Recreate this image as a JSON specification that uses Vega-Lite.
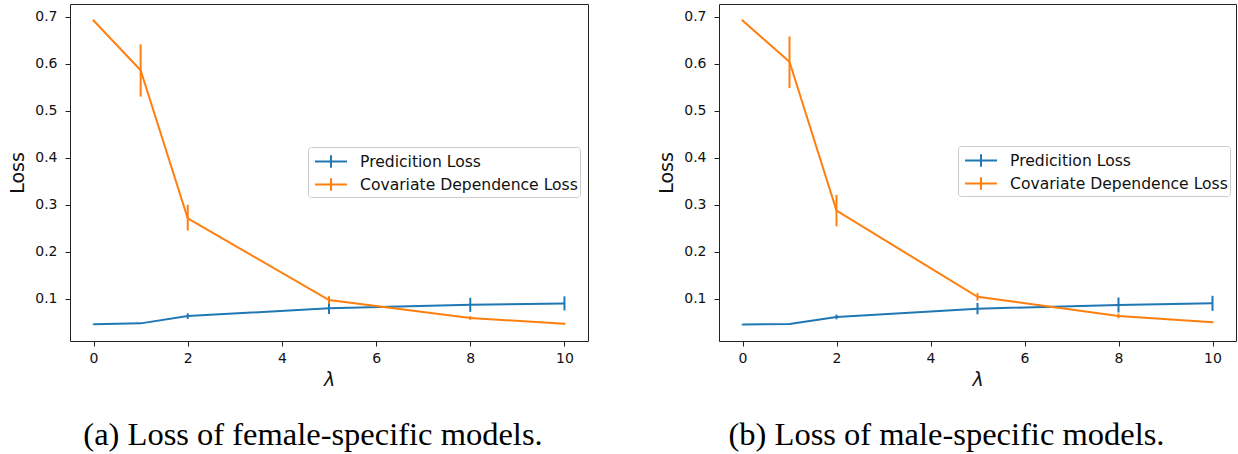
{
  "$schema": "https://vega.github.io/schema/vega-lite/v6.json",
  "padding": {"left": 8, "top": 3, "right": 0, "bottom": 0},
  "spacing": 68,
  "background": "white",
  "data": {"values": [
    {"panel": "a", "series": "Predicition Loss", "lambda": 0, "loss": 0.0455, "lower": 0.0445, "upper": 0.0465},
    {"panel": "a", "series": "Predicition Loss", "lambda": 1, "loss": 0.0475, "lower": 0.0465, "upper": 0.0485},
    {"panel": "a", "series": "Predicition Loss", "lambda": 2, "loss": 0.063, "lower": 0.057, "upper": 0.069},
    {"panel": "a", "series": "Predicition Loss", "lambda": 5, "loss": 0.0795, "lower": 0.0675, "upper": 0.0915},
    {"panel": "a", "series": "Predicition Loss", "lambda": 8, "loss": 0.087, "lower": 0.072, "upper": 0.102},
    {"panel": "a", "series": "Predicition Loss", "lambda": 10, "loss": 0.090, "lower": 0.075, "upper": 0.105},
    {"panel": "a", "series": "Covariate Dependence Loss", "lambda": 0, "loss": 0.692, "lower": 0.690, "upper": 0.694},
    {"panel": "a", "series": "Covariate Dependence Loss", "lambda": 1, "loss": 0.586, "lower": 0.530, "upper": 0.641},
    {"panel": "a", "series": "Covariate Dependence Loss", "lambda": 2, "loss": 0.271, "lower": 0.245, "upper": 0.300},
    {"panel": "a", "series": "Covariate Dependence Loss", "lambda": 5, "loss": 0.097, "lower": 0.089, "upper": 0.105},
    {"panel": "a", "series": "Covariate Dependence Loss", "lambda": 8, "loss": 0.059, "lower": 0.055, "upper": 0.063},
    {"panel": "a", "series": "Covariate Dependence Loss", "lambda": 10, "loss": 0.0466, "lower": 0.0446, "upper": 0.0486},
    {"panel": "b", "series": "Predicition Loss", "lambda": 0, "loss": 0.0449, "lower": 0.0439, "upper": 0.0459},
    {"panel": "b", "series": "Predicition Loss", "lambda": 1, "loss": 0.0463, "lower": 0.0453, "upper": 0.0473},
    {"panel": "b", "series": "Predicition Loss", "lambda": 2, "loss": 0.0612, "lower": 0.0562, "upper": 0.0662},
    {"panel": "b", "series": "Predicition Loss", "lambda": 5, "loss": 0.0788, "lower": 0.0668, "upper": 0.0908},
    {"panel": "b", "series": "Predicition Loss", "lambda": 8, "loss": 0.0866, "lower": 0.0706, "upper": 0.1026},
    {"panel": "b", "series": "Predicition Loss", "lambda": 10, "loss": 0.0902, "lower": 0.0742, "upper": 0.1062},
    {"panel": "b", "series": "Covariate Dependence Loss", "lambda": 0, "loss": 0.692, "lower": 0.690, "upper": 0.694},
    {"panel": "b", "series": "Covariate Dependence Loss", "lambda": 1, "loss": 0.604, "lower": 0.548, "upper": 0.658},
    {"panel": "b", "series": "Covariate Dependence Loss", "lambda": 2, "loss": 0.2874, "lower": 0.254, "upper": 0.321},
    {"panel": "b", "series": "Covariate Dependence Loss", "lambda": 5, "loss": 0.104, "lower": 0.096, "upper": 0.112},
    {"panel": "b", "series": "Covariate Dependence Loss", "lambda": 8, "loss": 0.0633, "lower": 0.0583, "upper": 0.0683},
    {"panel": "b", "series": "Covariate Dependence Loss", "lambda": 10, "loss": 0.050, "lower": 0.048, "upper": 0.052}
  ]},
  "resolve": {"scale": {"color": "independent"}, "legend": {"color": "independent"}},
  "config": {
    "view": {"stroke": "#222", "strokeWidth": 1},
    "axis": {"grid": false, "domain": false, "tickColor": "#222", "tickSize": 5, "tickWidth": 1,
      "labelFont": "DejaVu Sans", "labelFontSize": 14, "labelColor": "#111", "labelFlush": false,
      "titleFont": "DejaVu Sans", "titleFontSize": 19, "titleFontWeight": "normal", "titleColor": "#111"},
    "axisX": {"labelPadding": 5, "titlePadding": 5, "titleFontStyle": "italic"},
    "axisY": {"labelPadding": 8, "titlePadding": 7},
    "title": {"font": "Liberation Serif", "fontSize": 32.5, "fontWeight": "normal", "color": "#000", "orient": "bottom", "anchor": "middle", "offset": 30}
  },
  "hconcat": [
    {
      "width": 518, "height": 337,
      "title": {"text": "(a) Loss of female-specific models.", "dx": -16},
      "transform": [{"filter": "datum.panel === 'a'"}],
      "encoding": {
        "x": {"field": "lambda", "type": "quantitative", "title": "λ", "scale": {"domain": [-0.5, 10.5], "nice": false, "zero": false}, "axis": {"values": [0, 2, 4, 6, 8, 10]}},
        "color": {"field": "series", "type": "nominal", "sort": null,
          "scale": {"domain": ["Predicition Loss", "Covariate Dependence Loss"], "range": ["#1f77b4", "#ff7f0e"]},
          "legend": {"orient": "none", "legendX": 238, "legendY": 143, "title": null,
            "symbolType": "M-0.652,0H2.13M0.739,-0.55V0.55", "symbolSize": 529, "symbolStrokeWidth": 2,
            "labelOffset": 25, "padding": 2, "rowPadding": 0, "labelFontSize": 15.6, "labelFont": "DejaVu Sans",
            "labelColor": "#111", "labelLimit": 400, "strokeColor": "#cccccc", "fillColor": "white", "cornerRadius": 3}}
      },
      "layer": [
        {"mark": {"type": "line", "strokeWidth": 2},
          "encoding": {"y": {"field": "loss", "type": "quantitative", "title": "Loss", "scale": {"domain": [0.01, 0.727], "nice": false, "zero": false}, "axis": {"values": [0.1, 0.2, 0.3, 0.4, 0.5, 0.6, 0.7], "format": ".1f"}}}},
        {"mark": {"type": "rule", "strokeWidth": 2},
          "encoding": {"y": {"field": "lower", "type": "quantitative", "title": "Loss"}, "y2": {"field": "upper"}}}
      ]
    },
    {
      "width": 517, "height": 337,
      "title": {"text": "(b) Loss of male-specific models.", "dx": -31},
      "transform": [{"filter": "datum.panel === 'b'"}],
      "encoding": {
        "x": {"field": "lambda", "type": "quantitative", "title": "λ", "scale": {"domain": [-0.5, 10.5], "nice": false, "zero": false}, "axis": {"values": [0, 2, 4, 6, 8, 10]}},
        "color": {"field": "series", "type": "nominal", "sort": null,
          "scale": {"domain": ["Predicition Loss", "Covariate Dependence Loss"], "range": ["#1f77b4", "#ff7f0e"]},
          "legend": {"orient": "none", "legendX": 239, "legendY": 142, "title": null,
            "symbolType": "M-0.652,0H2.13M0.739,-0.55V0.55", "symbolSize": 529, "symbolStrokeWidth": 2,
            "labelOffset": 25, "padding": 2, "rowPadding": 0, "labelFontSize": 15.6, "labelFont": "DejaVu Sans",
            "labelColor": "#111", "labelLimit": 400, "strokeColor": "#cccccc", "fillColor": "white", "cornerRadius": 3}}
      },
      "layer": [
        {"mark": {"type": "line", "strokeWidth": 2},
          "encoding": {"y": {"field": "loss", "type": "quantitative", "title": "Loss", "scale": {"domain": [0.01, 0.727], "nice": false, "zero": false}, "axis": {"values": [0.1, 0.2, 0.3, 0.4, 0.5, 0.6, 0.7], "format": ".1f"}}}},
        {"mark": {"type": "rule", "strokeWidth": 2},
          "encoding": {"y": {"field": "lower", "type": "quantitative", "title": "Loss"}, "y2": {"field": "upper"}}}
      ]
    }
  ]
}
